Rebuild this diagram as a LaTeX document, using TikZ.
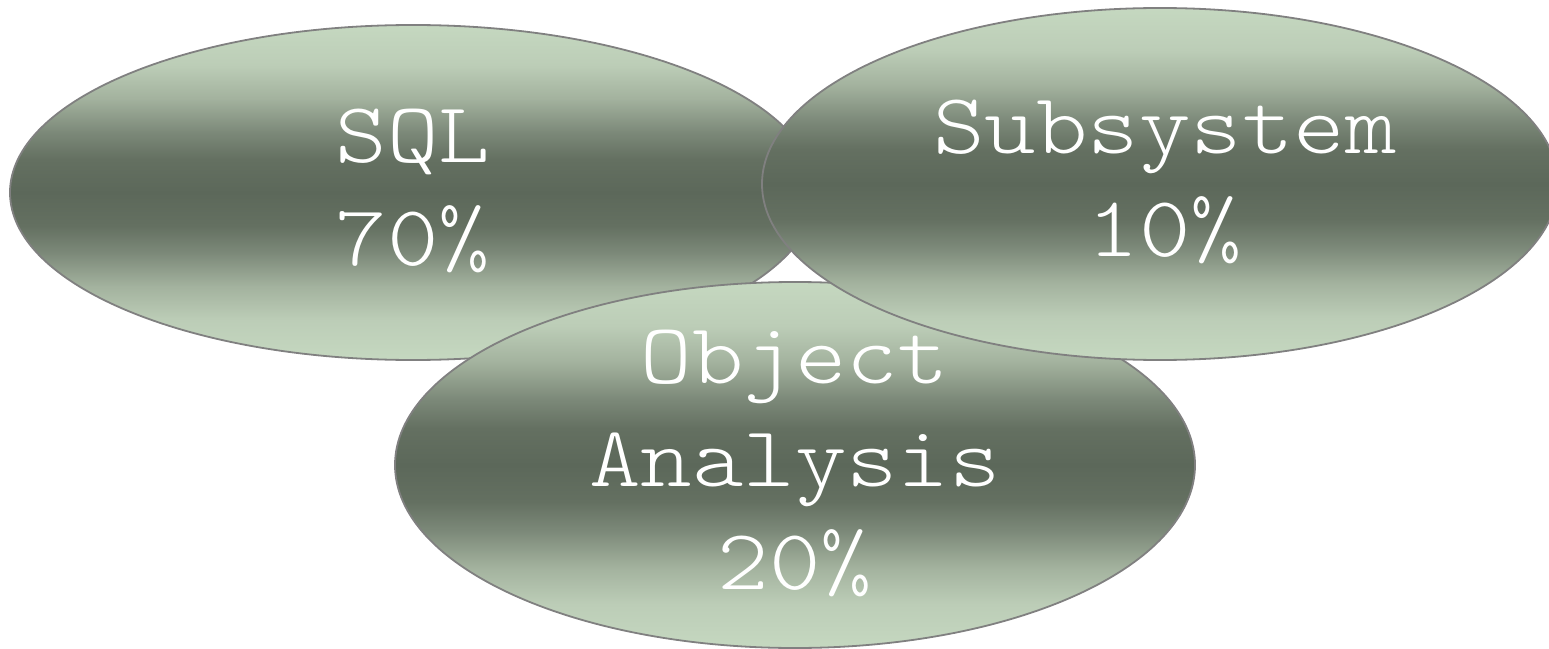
\documentclass[tikz,border=0pt]{standalone}
\usepackage{fontspec}
\newfontfamily\bubblefont[FakeStretch=1.14]{Latin Modern Mono Light}
\usetikzlibrary{shapes.geometric}

\definecolor{leafLight}{RGB}{197,216,192}
\definecolor{leafA}{RGB}{188,205,183}
\definecolor{leafB}{RGB}{163,178,158}
\definecolor{leafC}{RGB}{124,137,121}
\definecolor{leafD}{RGB}{100,112,97}
\definecolor{leafDark}{RGB}{92,104,90}
\definecolor{rimGray}{RGB}{128,128,128}

% light at top and bottom, dark band through the middle
\pgfdeclareverticalshading{leafband}{100bp}{
  color(0bp)=(leafLight); color(25bp)=(leafLight); color(31bp)=(leafA);
  color(36bp)=(leafB); color(41bp)=(leafC); color(45bp)=(leafD);
  color(50bp)=(leafDark);
  color(55bp)=(leafD); color(59bp)=(leafC); color(64bp)=(leafB);
  color(69bp)=(leafA); color(75bp)=(leafLight); color(100bp)=(leafLight)}

\tikzset{
  bubble/.style={ellipse, draw=rimGray, line width=1.8bp, shading=leafband,
    inner sep=0pt, outer sep=0pt},
  bubbletext/.style={text=white, align=center, inner sep=0pt,
    font=\bubblefont\fontsize{86bp}{103bp}\selectfont},
}

\begin{document}
\begin{tikzpicture}[x=1bp, y=-1bp]
  \useasboundingbox (0,0) rectangle (1549,649);
  \node[bubble, minimum width=806bp, minimum height=335bp] (sql) at (413,192.5) {};
  \node[bubbletext] (sqlt) at ([yshift=2bp]sql.center) {SQL\\70\%};
  \node[bubble, minimum width=800bp, minimum height=366bp] (obj) at (795,465) {};
  \node[bubbletext] (objt) at ([yshift=2bp]obj.center) {Object\\Analysis\\20\%};
  \node[bubble, minimum width=796bp, minimum height=352bp] (sub) at (1160,184) {};
  \node[bubbletext] (subt) at ([yshift=2bp, xshift=5bp]sub.center) {Subsystem\\10\%};
\end{tikzpicture}
\end{document}
